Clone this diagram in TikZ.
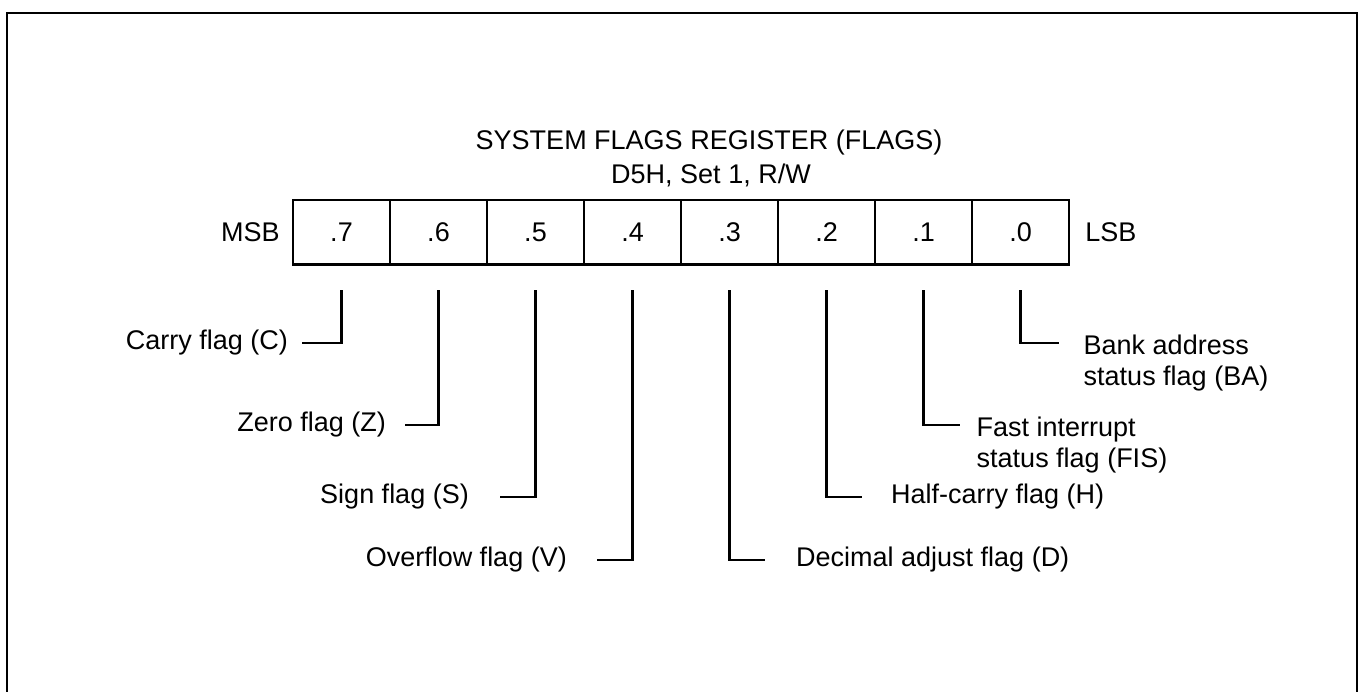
\documentclass[tikz,border=0pt]{standalone}
\usepackage{fontspec}
\setmainfont{Liberation Sans}
\begin{document}
\begin{tikzpicture}[x=1pt,y=-1pt,
  every node/.style={font=\fontsize{27}{31}\selectfont, inner sep=0pt},
  cell/.style={draw, line width=2.2pt, minimum width=97pt, minimum height=64.5pt},
  lead/.style={line width=2.2pt},
  frame/.style={line width=2.8pt},
  lbl/.style={anchor=east},
  rlbl/.style={anchor=west},
  rlbltwo/.style={anchor=north west, align=left}]
\clip (0,0) rectangle (1359,691);
\useasboundingbox (0,0) rectangle (1359,691);
% outer frame (bottom edge lies beyond the picture)
\draw[frame] (7,720) -- (7,13) -- (1357,13) -- (1357,720);
% title
\node (title) at (709,143) {SYSTEM FLAGS REGISTER (FLAGS)};
\node (sub) at (711,175) {D5H, Set 1, R/W};
% register cells
\foreach \b [count=\k from 0] in {7,6,5,4,3,2,1,0} {
  \node[cell] (c\b) at ({341.5+97*\k},232.25) {.\b};
}
\node[anchor=east] (msb) at ([xshift=-12pt]c7.west) {MSB};
\node[anchor=west] (lsb) at ([xshift=15pt]c0.east) {LSB};
% left labels
\node[lbl] (carry) at (288,343) {Carry flag (C)};
\node[lbl] (zero) at (386,425) {Zero flag (Z)};
\node[lbl] (sign) at (469,497) {Sign flag (S)};
\node[lbl] (over) at (567,560) {Overflow flag (V)};
\draw[lead] ([yshift=-24.5pt]c7.south) |- ([xshift=14pt]carry.east);
\draw[lead] ([yshift=-24.5pt]c6.south) |- ([xshift=19pt]zero.east);
\draw[lead] ([yshift=-24.5pt]c5.south) |- ([xshift=31pt]sign.east);
\draw[lead] ([yshift=-24.5pt]c4.south) |- ([xshift=30pt]over.east);
% right labels
\node[rlbl] (dec) at (796,560) {Decimal adjust flag (D)};
\node[rlbl] (half) at (891,497) {Half-carry flag (H)};
\draw[lead] ([yshift=-24.5pt]c3.south) |- ([xshift=-31pt]dec.west);
\draw[lead] ([yshift=-24.5pt]c2.south) |- ([xshift=-29pt]half.west);
\coordinate (fisend) at (959.5,425);
\coordinate (baend) at (1058.5,343);
\node[rlbltwo] (fis) at ([xshift=17pt,yshift=8pt]fisend) {Fast interrupt\\status flag (FIS)};
\node[rlbltwo] (ba) at ([xshift=25pt,yshift=8pt]baend) {Bank address\\status flag (BA)};
\draw[lead] ([yshift=-24.5pt]c1.south) |- (fisend);
\draw[lead] ([yshift=-24.5pt]c0.south) |- (baend);
\end{tikzpicture}
\end{document}
